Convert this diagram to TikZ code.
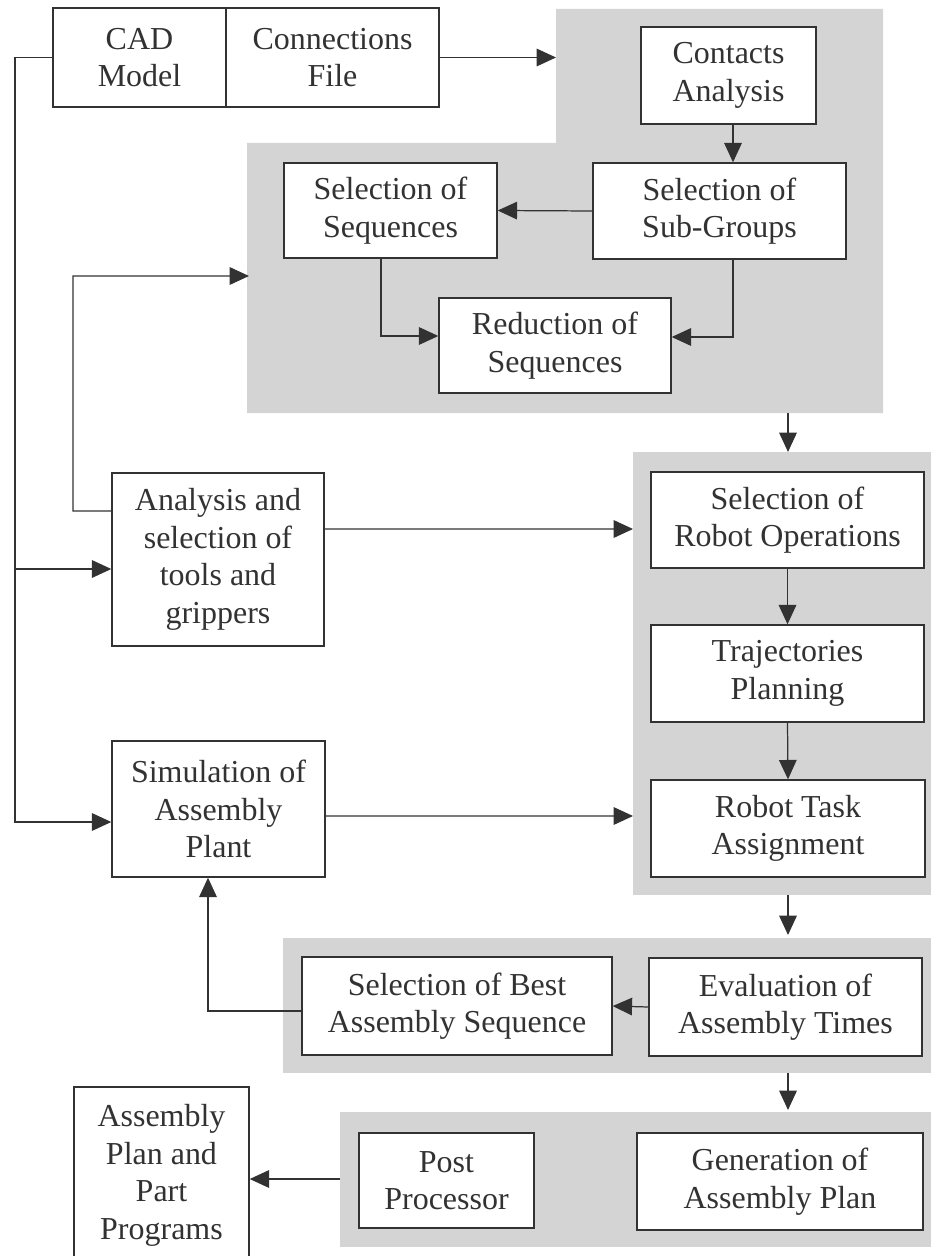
\documentclass[tikz,border=0pt]{standalone}
\usepackage{fontspec}
\setmainfont{Liberation Serif}
\usetikzlibrary{arrows.meta}
\definecolor{ink}{RGB}{50,50,50}
\definecolor{panelgray}{RGB}{212,212,212}
\begin{document}
\begin{tikzpicture}[x=0.02cm,y=-0.02cm,
  box/.style 2 args={draw=ink, line width=0.8pt, fill=white, text=ink,
    align=center, inner sep=0pt, minimum width=#1*0.02cm, minimum height=#2*0.02cm,
    font=\fontsize{18.2}{21.4}\selectfont},
  link/.style={draw=ink, line width=0.7pt},
  arr/.style={link, -{Triangle[length=11pt,width=10pt]}}]

\useasboundingbox (0,0) rectangle (931,1256);
\clip (0,0) rectangle (931,1256);

% shaded stage panels
\fill[panelgray] (556,9) -- (883,9) -- (883,413) -- (247,413) -- (247,143) -- (556,143) -- cycle;
\fill[panelgray] (633,452) rectangle (931,895);
\fill[panelgray] (283,938) rectangle (931,1073);
\fill[panelgray] (340,1112) rectangle (931,1247);

% boxes
\node[box={173}{99}] (cad) at (139.5,57.5) {CAD\\Model};
\node[box={213}{99}] (conn) at (332.5,57.5) {Connections\\File};
\node[box={175}{97}] (contacts) at (728.5,75.5) {Contacts\\Analysis};
\node[box={253}{96}] (subgroups) at (719.5,211) {Selection of\\Sub-Groups};
\node[box={213}{95}] (seqsel) at (390.5,210.5) {Selection of\\Sequences};
\node[box={232}{95}] (reduction) at (555,345.5) {Reduction of\\Sequences};
\node[box={212}{173}] (analysis) at (218,559.5) {Analysis and\\selection of\\tools and\\grippers};
\node[box={273}{96}] (robotops) at (787.5,520) {Selection of\\Robot Operations};
\node[box={273}{97}] (traj) at (787.5,673.5) {Trajectories\\Planning};
\node[box={274}{97}] (task) at (788,828.5) {Robot Task\\Assignment};
\node[box={213}{136}] (simul) at (218.5,809) {Simulation of\\Assembly\\Plant};
\node[box={310}{98}] (best) at (457,1006) {Selection of Best\\Assembly Sequence};
\node[box={273}{98}] (evaluation) at (785.5,1007) {Evaluation of\\Assembly Times};
\node[box={175}{95}] (post) at (446.5,1180.5) {Post\\Processor};
\node[box={286}{97}] (generation) at (780,1181.5) {Generation of\\Assembly Plan};
\node[box={175}{177}] (planpart) at (161.5,1175.5) {Assembly\\Plan and\\Part\\Programs};

% helper coordinates for bends and panel edges
\coordinate (railtop) at (15,57.5);
\coordinate (railmid) at (15,569);
\coordinate (railbot) at (15,822);
\coordinate (xa) at (733,0);
\coordinate (xb) at (381,0);
\coordinate (xc) at (208,0);
\coordinate (loopx) at (73,511);
\coordinate (g1in) at (556,57.5);
\coordinate (g1b) at (249,276);
\coordinate (g1out) at (788,413);
\coordinate (g2in) at (788,452);
\coordinate (g2a) at (633,529);
\coordinate (g2b) at (633,816);
\coordinate (g2out) at (788,895);
\coordinate (g3in) at (788,935);
\coordinate (g3out) at (788,1073);
\coordinate (g4in) at (788,1110);
\coordinate (g4out) at (340,1179);

% connectors
\draw[arr] (cad.west) -- (railtop) -- (railbot) -- (railbot -| simul.west);
\draw[arr] (railmid) -- (railmid -| analysis.west);
\draw[arr] (conn.east) -- (g1in);
\draw[arr] (contacts.south -| xa) -- (subgroups.north -| xa);
\draw[arr] (subgroups.west) -- (seqsel.east);
\draw[arr] (seqsel.south -| xb) |- ([yshift=0.19cm]reduction.west);
\draw[arr] (subgroups.south -| xa) |- ([yshift=0.17cm]reduction.east);
\draw[arr] ([yshift=0.97cm]analysis.west) -- (loopx) |- (g1b);
\draw[arr] ([yshift=0.61cm]analysis.east) -- (g2a);
\draw[arr] (g1out) -- (g2in);
\draw[arr] (robotops.south) -- (traj.north);
\draw[arr] (traj.south) -- (task.north);
\draw[arr] ([yshift=-0.14cm]simul.east) -- (g2b);
\draw[arr] (g2out) -- (g3in);
\draw[arr] (evaluation.west) -- (best.east);
\draw[arr] ([yshift=-0.1cm]best.west) -| (simul.south -| xc);
\draw[arr] (g3out) -- (g4in);
\draw[arr] (g4out) -- (g4out -| planpart.east);
\end{tikzpicture}
\end{document}
